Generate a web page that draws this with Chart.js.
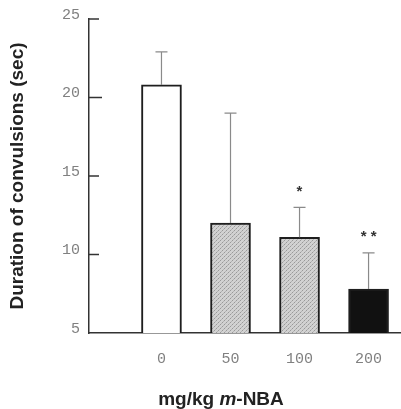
<!DOCTYPE html>
<html>
<head>
<meta charset="utf-8">
<script src="https://cdn.jsdelivr.net/npm/chart.js@4"></script>
<style>
  body { margin: 0; background: #fff; }
  #wrap { width: 401px; height: 409px; }
</style>
</head>
<body>
<div id="wrap"><canvas id="chart" width="401" height="409"></canvas></div>
<script>
// doses (mg/kg m-NBA) and duration of convulsions (sec)
const doses = ['0', '50', '100', '200'];
const meanDuration = [20.8, 12.0, 11.1, 7.8];
const errorTop = [22.9, 19.0, 13.0, 10.1];
const signif = ['', '', '*', '**'];
const yTicks = [5, 10, 15, 20, 25];

// light gray stipple for the 50 / 100 bars
function makeStipple() {
    const c = document.createElement('canvas');
    c.width = 4; c.height = 4;
    const g = c.getContext('2d');
    g.fillStyle = '#d2d2d2';
    g.fillRect(0, 0, 4, 4);
    g.fillStyle = '#9a9a9a';
    g.fillRect(0, 0, 1, 1);
    g.fillRect(2, 2, 1, 1);
    g.fillStyle = '#b4b4b4';
    g.fillRect(1, 3, 1, 1);
    g.fillRect(3, 1, 1, 1);
    return g.createPattern(c, 'repeat');
}
const stipple = makeStipple();
const fills = ['#ffffff', stipple, stipple, '#111111'];

const extras = {
    id: 'extras',
    afterDatasetsDraw(chart) {
        const ctx = chart.ctx;
        const xs = chart.scales.x, ys = chart.scales.y;
        ctx.save();
        // error bars
        ctx.strokeStyle = '#8a8a8a';
        ctx.lineWidth = 1.2;
        for (let i = 0; i < doses.length; i++) {
            const x = xs.getPixelForValue(i);
            const y0 = ys.getPixelForValue(meanDuration[i]);
            const y1 = ys.getPixelForValue(errorTop[i]);
            ctx.beginPath();
            ctx.moveTo(x, y0);
            ctx.lineTo(x, y1);
            ctx.moveTo(x - 6, y1);
            ctx.lineTo(x + 6, y1);
            ctx.stroke();
            if (signif[i]) {
                ctx.fillStyle = '#333';
                ctx.font = 'bold 15px "Liberation Sans"';
                ctx.textAlign = 'center';
                ctx.textBaseline = 'middle';
                const txt = signif[i].split('').join(' ');
                ctx.fillText(txt, x, y1 - 16);
            }
        }
        // inward ticks on y axis
        ctx.strokeStyle = '#333';
        ctx.lineWidth = 1.5;
        const left = chart.chartArea.left;
        yTicks.forEach(v => {
            if (v === 5) return;
            const y = ys.getPixelForValue(v);
            ctx.beginPath();
            ctx.moveTo(left, y);
            ctx.lineTo(left + (v === 20 ? 13 : 10), y);
            ctx.stroke();
        });
        ctx.restore();
    },
    afterDraw(chart) {
        const ctx = chart.ctx;
        ctx.save();
        ctx.fillStyle = '#222';
        ctx.textBaseline = 'middle';
        ctx.textAlign = 'left';
        const parts = [
            ['mg/kg ', 'bold 19px "Liberation Sans"'],
            ['m', 'italic bold 19px "Liberation Sans"'],
            ['-NBA', 'bold 19px "Liberation Sans"']
        ];
        let total = 0;
        parts.forEach(p => { ctx.font = p[1]; total += ctx.measureText(p[0]).width; });
        let x = 221 - total / 2;
        parts.forEach(p => {
            ctx.font = p[1];
            ctx.fillText(p[0], x, 400);
            x += ctx.measureText(p[0]).width;
        });
        ctx.restore();
    }
};

new Chart(document.getElementById('chart'), {
    type: 'bar',
    data: {
        datasets: [{
            data: meanDuration.map((v, i) => ({ x: i, y: v })),
            backgroundColor: fills,
            borderColor: '#1e1e1e',
            borderWidth: 2,
            borderSkipped: false,
            barThickness: 40
        }]
    },
    options: {
        responsive: false,
        animation: false,
        layout: { padding: { top: 19, right: 0, left: 0, bottom: 0 } },
        plugins: { legend: { display: false }, tooltip: { enabled: false } },
        scales: {
            x: {
                type: 'linear',
                offset: false,
                min: -1.05,
                max: 3.47,
                afterBuildTicks: s => { s.ticks = doses.map((d, i) => ({ value: i })); },
                afterFit: s => { s.height = 76; },
                grid: { display: false, drawTicks: false, offset: false },
                border: { display: true, color: '#333', width: 1.5 },
                ticks: {
                    callback: v => doses[v],
                    color: '#808080',
                    font: { family: '"Liberation Mono"', size: 15 },
                    padding: 17,
                    maxRotation: 0
                }
            },
            y: {
                min: 5,
                max: 25,
                afterBuildTicks: s => { s.ticks = yTicks.map(v => ({ value: v })); },
                afterFit: s => { s.width = 89; },
                grid: { display: false, drawTicks: false },
                border: { display: true, color: '#333', width: 1.5 },
                ticks: {
                    color: '#808080',
                    font: { family: '"Liberation Mono"', size: 15 },
                    padding: 9,
                    labelOffset: -4
                },
                title: {
                    display: true,
                    text: 'Duration of convulsions (sec)',
                    color: '#222',
                    font: { family: '"Liberation Sans"', size: 19, weight: 'bold' },
                    padding: { top: 6, bottom: 0 }
                }
            }
        }
    },
    plugins: [extras]
});
</script>
</body>
</html>
